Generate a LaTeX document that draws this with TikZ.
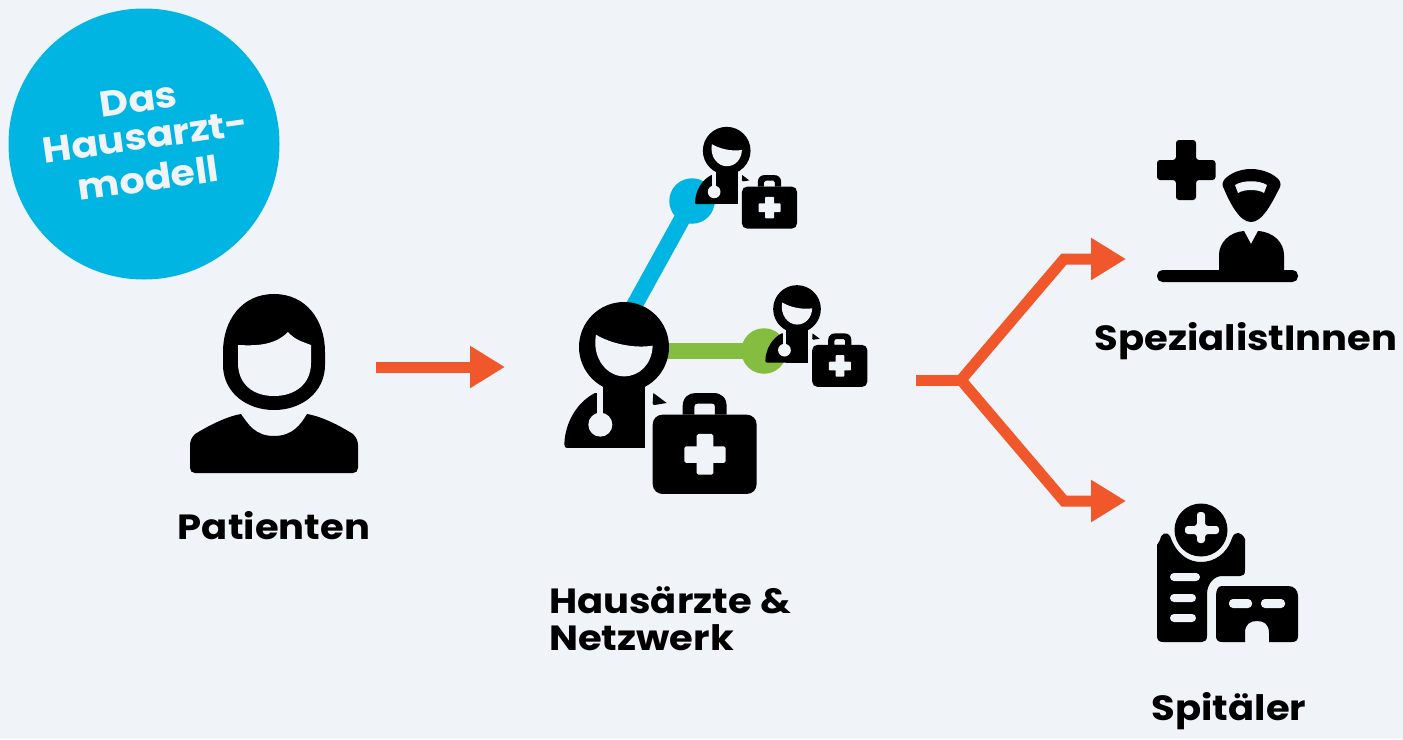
\documentclass[tikz,border=0pt]{standalone}
\usepackage{fontspec}
\setmainfont{Poppins}[BoldFont={Poppins Bold},BoldFeatures={FakeStretch=1.1}]
\usetikzlibrary{arrows.meta,calc}
\definecolor{paper}{HTML}{F0F4F8}
\definecolor{skyb}{HTML}{00B5E2}
\definecolor{leaf}{HTML}{84BD3F}
\definecolor{flame}{HTML}{F0572A}
\tikzset{
  flow/.style={draw=flame,line width=11pt,line join=miter,-{Triangle[length=35pt,width=40pt]}},
  flowplain/.style={draw=flame,line width=11pt,line join=miter},
  hub/.style={circle,inner sep=0pt,minimum size=45.5pt},
  lbl/.style={font=\bfseries\fontsize{35}{40}\selectfont,text=black,inner sep=0pt,align=left},
  badgelbl/.style={font=\bfseries\fontsize{36}{40}\selectfont,text=paper,inner sep=0pt,rotate=8,anchor=base},
  % doctor with stethoscope and medical case, drawn about the centre of the head
  pics/doctor/.style={code={
    \fill[black] (0,0) circle (135);
    \fill[black] (-62,60) rectangle (63,303);
    \fill[black] (-87,138) .. controls (-140,165) and (-177,225) .. (-179,292)
      .. controls (-179,300) and (-176,303) .. (-170,303) -- (-62,303) -- (-62,138) -- cycle;
    \fill[paper] (-84,-37) .. controls (-40,-10) and (30,5) .. (86,-4)
      .. controls (84,50) and (48,88) .. (0,88)
      .. controls (-50,88) and (-97,35) .. (-84,-37) -- cycle;
    \fill[paper] (-82,130) rectangle (-62,210);
    \fill[paper] (-71,233) circle (36);
    \fill[black] (88,138) -- (128,168) -- (92,174) .. controls (88,174) and (86,172) .. (86,168) -- cycle;
    \fill[black,even odd rule] (176,203) -- (176,178) .. controls (176,150) and (195,138) .. (215,138)
      -- (268,138) .. controls (290,138) and (308,150) .. (308,178) -- (308,203) -- cycle
      (211,203) -- (211,180) .. controls (211,172) and (215,170) .. (220,170) -- (265,170)
      .. controls (270,170) and (273,172) .. (273,180) -- (273,203) -- cycle;
    \fill[black] (116,203) -- (368,203) .. controls (385,203) and (398,216) .. (398,233)
      -- (398,411) .. controls (398,428) and (385,441) .. (368,441)
      -- (116,441) .. controls (99,441) and (86,428) .. (86,411)
      -- (86,233) .. controls (86,216) and (99,203) .. (116,203) -- cycle;
    \fill[paper] (223,261) -- (263,261) -- (268,266) -- (268,298) -- (300,298) -- (305,303) -- (305,343)
      -- (300,348) -- (268,348) -- (268,378) -- (263,383) -- (223,383) -- (218,378) -- (218,348)
      -- (186,348) -- (181,343) -- (181,303) -- (186,298) -- (218,298) -- (218,266) -- cycle;
  }}
}
\begin{document}
\begin{tikzpicture}[x=1pt,y=-1pt]
\useasboundingbox (0,0) rectangle (1403,739);
\fill[paper] (0,0) rectangle (1403,739);

% badge
\node[circle,fill=skyb,inner sep=0pt,minimum size=271pt] (badge) at (144,144) {};
\node[badgelbl] (badgea) at (140,112) {Das};
\node[badgelbl] (badgeb) at (147,149) {Hausarzt-};
\node[badgelbl] (badgec) at (150,191) {modell};

% patient icon
\fill[black] (274,294) .. controls (306,294) and (325,320) .. (325,352)
  -- (325,365) .. controls (325,392) and (302,410) .. (274,410)
  .. controls (246,410) and (223,392) .. (223,365) -- (223,352)
  .. controls (223,320) and (242,294) .. (274,294) -- cycle;
\fill[paper] (238,345) .. controls (258,346) and (275,345) .. (288,332)
  .. controls (295,340) and (303,342) .. (311,345) -- (311,363)
  .. controls (311,384) and (295,396) .. (274,396)
  .. controls (253,396) and (238,384) .. (238,363) -- cycle;
\fill[black] (241,414) .. controls (248,424) and (255,436) .. (274,436)
  .. controls (293,436) and (301,424) .. (307,414)
  .. controls (325,417) and (345,429) .. (353,434)
  .. controls (356,437) and (358,441) .. (358,445) -- (358,468)
  .. controls (358,471) and (356,473) .. (353,473) -- (195,473)
  .. controls (192,473) and (190,471) .. (190,468) -- (190,445)
  .. controls (190,441) and (192,437) .. (195,434)
  .. controls (205,428) and (224,417) .. (241,414) -- cycle;
\node[lbl,anchor=base] (patienten) at (274,539) {Patienten};

% flow from patients to the practice
\coordinate (pfrom) at (376,367);
\coordinate (pto) at (505,367);
\draw[flow] (pfrom) -- (pto);

% links of the network
\node[hub,fill=skyb] (bluehub) at (692,201) {};
\node[hub,fill=leaf] (greenhub) at (764,351) {};
\coordinate (bluefoot) at (618,335);
\coordinate (greenfoot) at (624,351);
\draw[skyb,line width=16.5pt] (bluefoot) -- (bluehub.center);
\draw[leaf,line width=16.5pt] (greenfoot) -- (greenhub.center);

% doctors
\pic[scale=0.3333,transform shape] at (624,347) {doctor};
\pic[scale=0.1767,transform shape] at (726.7,150.7) {doctor};
\pic[scale=0.1767,transform shape] at (797,309) {doctor};

\node[lbl,anchor=base west] (aerzte) at (549,613) {Hausärzte \&};
\node[lbl,anchor=base west] (netz) at (549,650) {Netzwerk};

% fork towards specialists and hospitals
\coordinate (forkstart) at (916,380);
\coordinate (fork) at (961,380);
\coordinate (upbend) at (1064,259);
\coordinate (uptip) at (1126,259);
\coordinate (lowbend) at (1064,501);
\coordinate (lowtip) at (1126,501);
\draw[flowplain] (forkstart) -- (fork);
\draw[flow] (fork) -- (upbend) -- (uptip);
\draw[flow] (fork) -- (lowbend) -- (lowtip);

% specialist icon
\fill[black,rounded corners=3pt] (1176,140) -- (1196,140) -- (1196,160) -- (1215.5,160) -- (1215.5,180)
  -- (1196,180) -- (1196,200) -- (1176,200) -- (1176,180) -- (1157,180) -- (1157,160) -- (1176,160) -- cycle;
\fill[black] (1251,169) .. controls (1263,169) and (1274,174) .. (1279,180)
  .. controls (1281,183) and (1281,186) .. (1279,189)
  .. controls (1273,201) and (1266,214) .. (1259,219)
  .. controls (1254,223) and (1248,223) .. (1243,219)
  .. controls (1236,214) and (1229,201) .. (1224,189)
  .. controls (1222,186) and (1222,183) .. (1224,180)
  .. controls (1229,174) and (1239,169) .. (1251,169) -- cycle;
\fill[paper] (1235,185) .. controls (1243,180) and (1259,180) .. (1267,185)
  -- (1264,193) .. controls (1258,189) and (1244,189) .. (1238,193) -- cycle;
\fill[black] (1219,271) -- (1219,255) .. controls (1219,243) and (1229,232) .. (1244,231)
  -- (1251,244) -- (1258,231) .. controls (1274,232) and (1284,243) .. (1284,255) -- (1284,271) -- cycle;
\fill[black,rounded corners=5.5pt] (1157,270) rectangle (1298,282);
\node[lbl,anchor=base] (spez) at (1246,350) {SpezialistInnen};

% hospital icon
\fill[black] (1160,540) .. controls (1161,533) and (1167,531) .. (1170,536)
  .. controls (1177,556) and (1190,562) .. (1201,562)
  .. controls (1214,562) and (1227,554) .. (1232,538)
  .. controls (1235,531) and (1241,531) .. (1245,539)
  -- (1245,570) .. controls (1245,575) and (1243,576) .. (1240,576)
  -- (1222,576) .. controls (1214,576) and (1207,584) .. (1207,594)
  -- (1207,636) .. controls (1207,640) and (1205,642) .. (1202,642)
  -- (1163,642) .. controls (1159,642) and (1157,640) .. (1157,636)
  -- (1157,545) -- cycle;
\fill[black] (1201,530) circle (26.5);
\fill[paper,rounded corners=3pt] (1197,512) -- (1205,512) -- (1205,526) -- (1219,526) -- (1219,534)
  -- (1205,534) -- (1205,543) -- (1197,543) -- (1197,534) -- (1185,534) -- (1185,526) -- (1197,526) -- cycle;
\fill[paper,rounded corners=4pt] (1170,573) rectangle (1200,581);
\fill[paper,rounded corners=4pt] (1170,594) rectangle (1196,602);
\fill[paper,rounded corners=4pt] (1170,614) rectangle (1196,622);
\fill[black] (1222,586) -- (1288,586) .. controls (1294,586) and (1298,590) .. (1298,596)
  -- (1298,636) .. controls (1298,640) and (1296,642) .. (1292,642)
  -- (1269,642) -- (1269,633)
  .. controls (1269,624) and (1264,621) .. (1257,621)
  .. controls (1250,621) and (1245,624) .. (1245,633) -- (1245,642)
  -- (1222,642) .. controls (1218,642) and (1216,640) .. (1216,636) -- (1216,596)
  .. controls (1216,590) and (1218,586) .. (1222,586) -- cycle;
\fill[paper,rounded corners=4pt] (1229,599) rectangle (1252,608);
\fill[paper,rounded corners=4pt] (1261,599) rectangle (1285,608);
\node[lbl,anchor=base] (spital) at (1229,720) {Spitäler};
\end{tikzpicture}
\end{document}
